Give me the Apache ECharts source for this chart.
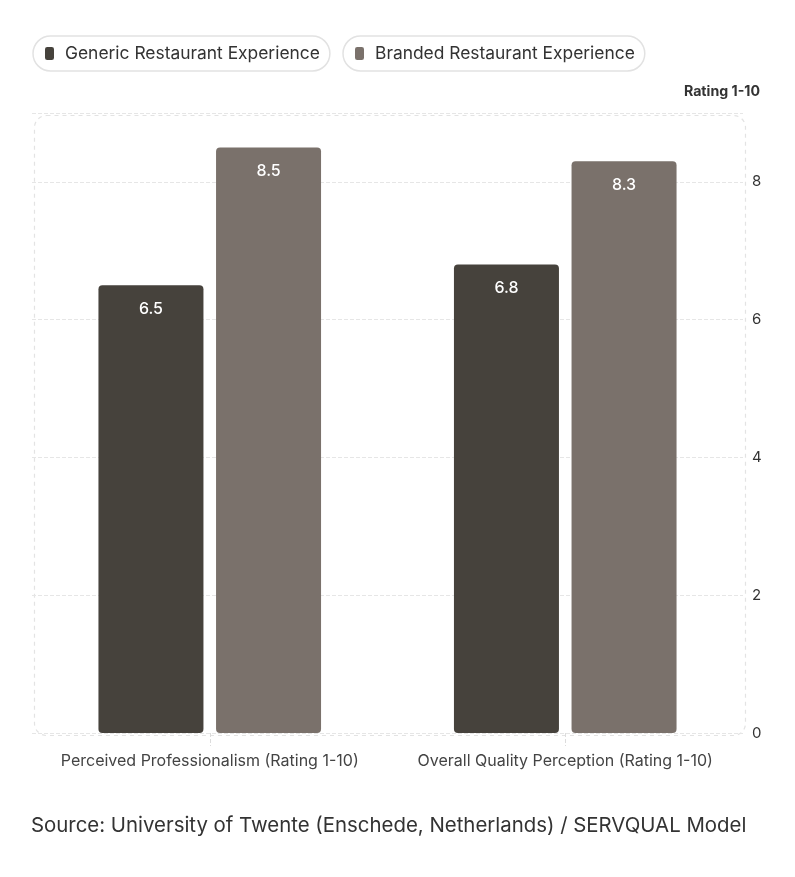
<!DOCTYPE html>
<html><head><meta charset="utf-8">
<script src="https://cdn.jsdelivr.net/npm/echarts@6/dist/echarts.min.js"></script>
<style>html,body{margin:0;padding:0;background:#fff}#c{width:795px;height:877px}</style>
</head><body><div id="c"></div>
<script>
const categories = ['Perceived Professionalism (Rating 1-10)', 'Overall Quality Perception (Rating 1-10)'];
const seriesNames = ['Generic Restaurant Experience', 'Branded Restaurant Experience'];
const genericValues = [6.5, 6.8];
const brandedValues = [8.5, 8.3];
const yTicks = [0, 2, 4, 6, 8];
const sourceText = 'Source: University of Twente (Enschede, Netherlands) / SERVQUAL Model';

const colors = ['#46423c', '#7a716b'];
const FONT = 'Inter, "Noto Sans", sans-serif';
const G = {left: 32, right: 52, top: 113, bottom: 144};
const chart = echarts.init(document.getElementById('c'), null, {renderer: 'canvas'});
const legendCommon = {
  top: 36, itemWidth: 9, itemHeight: 13, icon: 'roundRect', itemGap: 10,
  padding: [9, 10, 9, 12], borderColor: '#e2e2e2', borderWidth: 1.5, borderRadius: 18,
  textStyle: {fontFamily: FONT, fontSize: 17.4, color: '#333', padding: [0, 0, 0, 6]}
};
chart.setOption({
  color: colors,
  animation: false,
  textStyle: {fontFamily: FONT},
  legend: [
    Object.assign({}, legendCommon, {left: 33, data: [seriesNames[0]]}),
    Object.assign({}, legendCommon, {left: 343, data: [seriesNames[1]]})
  ],
  title: {text: sourceText, left: 26, top: 811,
    textStyle: {fontFamily: FONT, fontSize: 20.4, fontWeight: 'normal', color: '#333'}},
  grid: {left: G.left, right: G.right, top: G.top, bottom: G.bottom, containLabel: false},
  xAxis: {
    type: 'category', data: categories,
    axisLine: {show: false},
    axisTick: {show: true, alignWithLabel: true, length: 13, lineStyle: {color: '#dcdcdc', type: 'dashed'}},
    axisLabel: {fontFamily: FONT, fontSize: 16, color: '#444', margin: 20, interval: 0, hideOverlap: false}
  },
  yAxis: {
    type: 'value', position: 'right', min: 0, max: 9, interval: 2,
    name: 'Rating 1-10', nameLocation: 'end', nameGap: 14,
    nameTextStyle: {fontFamily: FONT, fontSize: 14.2, fontWeight: 'bold', color: '#333', align: 'right', padding: [0, -17, 0, 0]},
    axisLine: {show: false}, axisTick: {show: false},
    axisLabel: {fontFamily: FONT, fontSize: 15, color: '#333', margin: 9,
      formatter: v => yTicks.includes(v) ? String(v) : ''},
    splitLine: {show: true, lineStyle: {color: '#e6e6e6', type: 'dashed', width: 1}}
  },
  graphic: [{
    type: 'rect', left: G.left, top: G.top, z: 0, silent: true,
    shape: {width: 795 - G.left - G.right, height: 877 - G.top - G.bottom, r: 12},
    style: {fill: 'none', stroke: '#e3e3e3', lineWidth: 1.2, lineDash: [4, 4]}
  }],
  series: [
    {name: seriesNames[0], type: 'bar', data: genericValues, barWidth: 105, barGap: '12%',
      itemStyle: {borderRadius: 4},
      label: {show: true, position: 'insideTop', distance: 16, color: '#fff', fontSize: 16, fontWeight: 500, fontFamily: FONT}},
    {name: seriesNames[1], type: 'bar', data: brandedValues, barWidth: 105, barGap: '12%',
      itemStyle: {borderRadius: 4},
      label: {show: true, position: 'insideTop', distance: 16, color: '#fff', fontSize: 16, fontWeight: 500, fontFamily: FONT}}
  ]
});
</script></body></html>
